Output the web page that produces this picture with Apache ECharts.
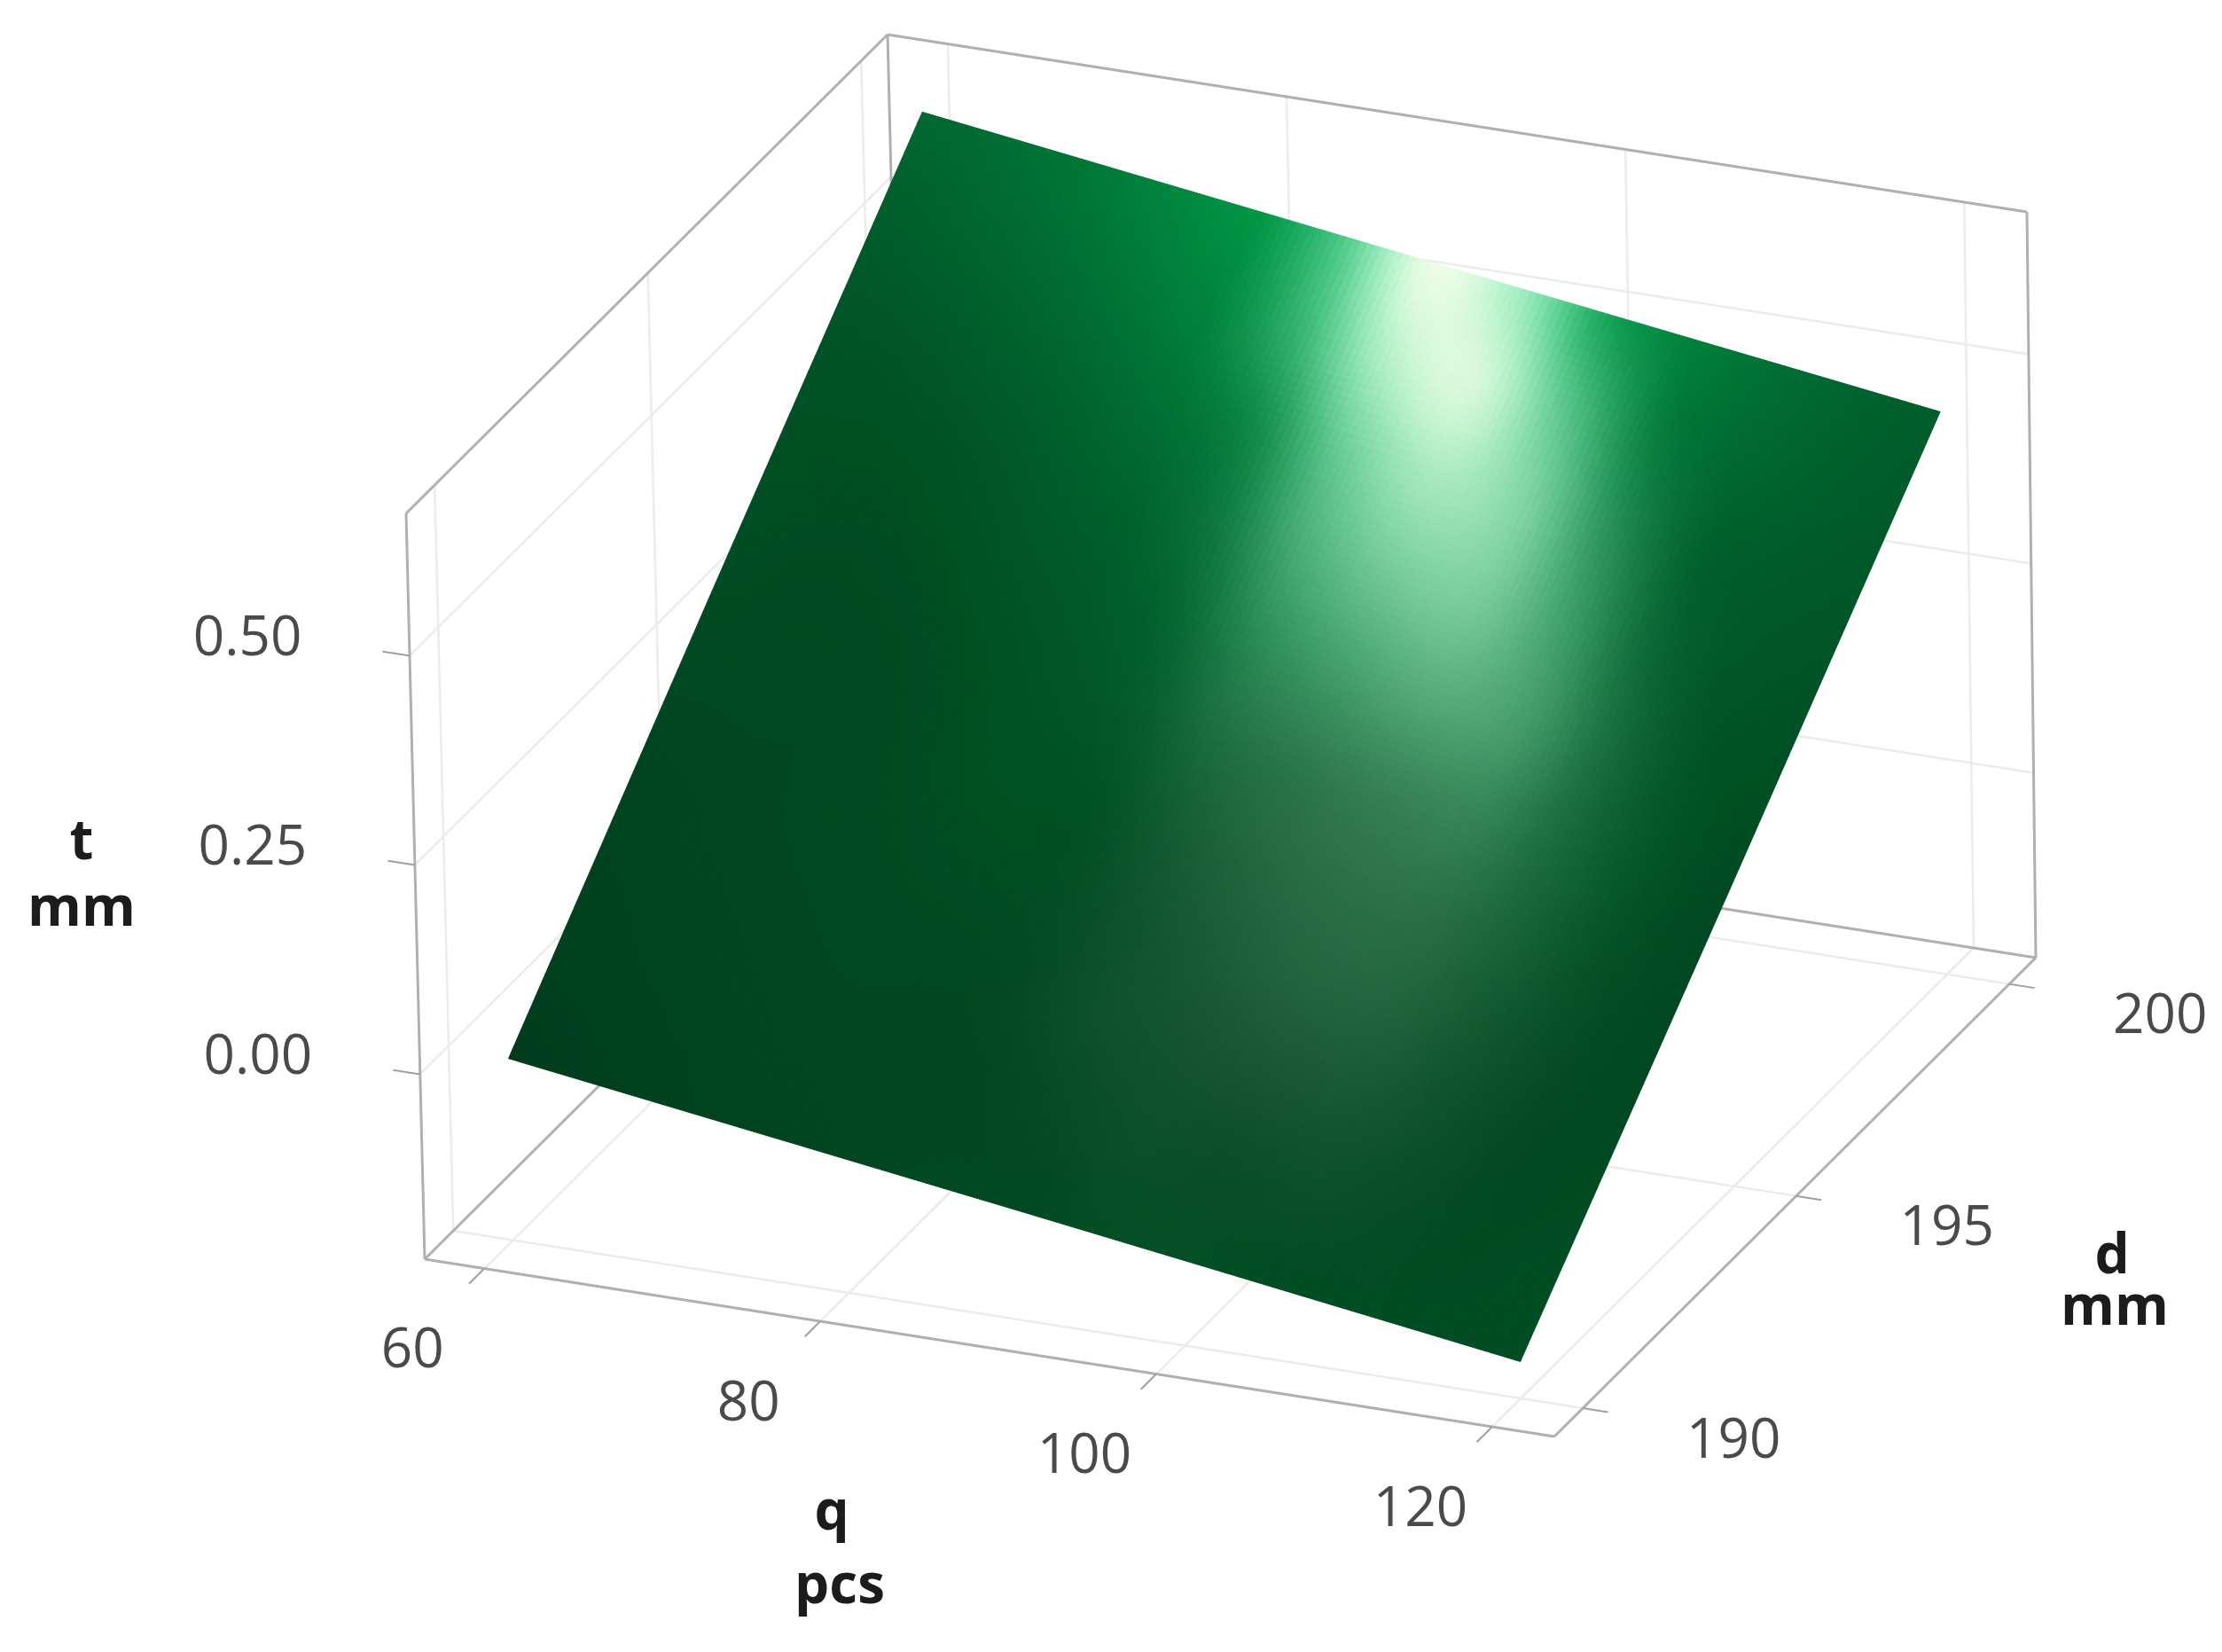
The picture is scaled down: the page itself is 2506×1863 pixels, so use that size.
<!DOCTYPE html>
<html>
<head>
<meta charset="utf-8">
<style>
html, body { margin: 0; background: #fff; }
#chart { width: 2506px; height: 1863px; }
</style>
<script src="https://cdn.jsdelivr.net/npm/echarts@6/dist/echarts.min.js"></script>
</head>
<body>
<div id="chart"></div>
<script>
// ticks
var qTicks = [60, 80, 100, 120];
var dTicks = [190, 195, 200];
var tTicks = [0, 0.25, 0.5];
var tTickLabels = ['0.00', '0.25', '0.50'];

// axis box
var qRange = [56.45, 123.7];
var dRange = [189.33, 200.62];
var tRange = [-0.221, 0.67];

// surface height t (mm), rows d, columns q
var surfaceQ = [60, 90, 120];
var surfaceD = [190, 195, 200];
var surfaceT = [
    [-0.004, -0.09, -0.177],
    [0.31, 0.225, 0.135],
    [0.62, 0.535, 0.451],
];

// shading, rows d = 200 .. 190, columns q = 60 .. 120
var shadeQ = [60, 65, 70, 75, 80, 85, 90, 95, 100, 105, 110, 115, 120];
var shadeD = [200, 199, 198, 197, 196, 195, 194, 193, 192, 191, 190];
// green level of the body colour
var shadeGreen = [
    [104, 110, 120, 135, 150, 155, 160, 160, 150, 130, 112, 100, 92],
    [94, 100, 108, 120, 134, 142, 145, 145, 135, 120, 106, 96, 90],
    [85, 88, 95, 104, 116, 124, 130, 128, 120, 108, 96, 90, 86],
    [80, 80, 84, 92, 100, 108, 110, 108, 103, 98, 90, 86, 82],
    [78, 76, 78, 84, 90, 96, 95, 92, 88, 86, 84, 82, 78],
    [75, 73, 74, 78, 84, 86, 76, 68, 65, 72, 76, 78, 74],
    [72, 72, 72, 76, 80, 78, 68, 60, 58, 62, 70, 74, 72],
    [68, 70, 72, 74, 76, 74, 64, 56, 54, 58, 66, 70, 72],
    [66, 68, 70, 72, 72, 70, 64, 56, 52, 58, 64, 70, 74],
    [64, 66, 68, 70, 70, 70, 68, 66, 64, 66, 70, 74, 76],
    [60, 63, 66, 68, 70, 72, 72, 74, 75, 76, 76, 76, 76],
];
// highlight strength in percent
var shadeGlow = [
    [0, 0, 0, 0, 0, 32, 92, 66, 12, 0, 0, 0, 0],
    [0, 0, 0, 0, 1, 24, 72, 84, 38, 6, 0, 0, 0],
    [0, 0, 0, 0, 0, 9, 44, 66, 52, 18, 2, 0, 0],
    [0, 0, 0, 0, 0, 6, 30, 46, 48, 26, 6, 0, 0],
    [0, 0, 0, 0, 0, 3, 18, 28, 34, 28, 10, 1, 0],
    [0, 0, 0, 0, 0, 2, 12, 18, 22, 21, 10, 2, 0],
    [0, 0, 0, 0, 0, 1, 8, 14, 17, 16, 9, 2, 0],
    [0, 0, 0, 0, 0, 1, 6, 11, 14, 13, 7, 2, 0],
    [0, 0, 0, 0, 0, 1, 5, 8, 10, 9, 5, 1, 0],
    [0, 0, 0, 0, 0, 0, 2, 4, 4, 4, 2, 0, 0],
    [0, 0, 0, 0, 0, 0, 0, 1, 1, 0, 0, 0, 0],
];

// view of the box on the page
var boxOrigin = [479, 1420];
var boxQ = [1274, 200];
var boxD = [543, -540];
var boxT = [-21, -841];
var boxTLean = 11;

var SUB = 12;
var FONT = '"Open Sans", sans-serif';

function project(q, d, t) {
    var u = (q - qRange[0]) / (qRange[1] - qRange[0]);
    var v = (d - dRange[0]) / (dRange[1] - dRange[0]);
    var w = (t - tRange[0]) / (tRange[1] - tRange[0]);
    return [
        boxOrigin[0] + u * boxQ[0] + v * boxD[0] + w * (boxT[0] + u * boxTLean),
        boxOrigin[1] + u * boxQ[1] + v * boxD[1] + w * boxT[1],
    ];
}

function heightAt(q, d) {
    var a = (q - surfaceQ[0]) / (surfaceQ[1] - surfaceQ[0]);
    var b = (d - surfaceD[0]) / (surfaceD[1] - surfaceD[0]);
    var i = Math.min(Math.floor(a), surfaceQ.length - 2);
    var j = Math.min(Math.floor(b), surfaceD.length - 2);
    var fa = a - i;
    var fb = b - j;
    var low = surfaceT[j][i] * (1 - fa) + surfaceT[j][i + 1] * fa;
    var high = surfaceT[j + 1][i] * (1 - fa) + surfaceT[j + 1][i + 1] * fa;
    return low * (1 - fb) + high * fb;
}

function spline(p0, p1, p2, p3, f) {
    return p1 + 0.5 * f * (p2 - p0 + f * (2 * p0 - 5 * p1 + 4 * p2 - p3 + f * (3 * (p1 - p2) + p3 - p0)));
}

function sampleGrid(grid, row, col) {
    var r = Math.min(Math.floor(row), grid.length - 2);
    var c = Math.min(Math.floor(col), grid[0].length - 2);
    var parts = [];
    for (var k = -1; k <= 2; k++) {
        var line = grid[Math.max(0, Math.min(grid.length - 1, r + k))];
        parts.push(spline(
            line[Math.max(0, c - 1)], line[c], line[c + 1],
            line[Math.min(line.length - 1, c + 2)], col - c
        ));
    }
    return spline(parts[0], parts[1], parts[2], parts[3], row - r);
}

function shadeColor(row, col) {
    var g = Math.max(45, sampleGrid(shadeGreen, row, col));
    var s = Math.max(0, Math.min(1, sampleGrid(shadeGlow, row, col) / 100));
    var lift = s * (1.75 - 0.75 * s);
    var red = 255 * s;
    var green = g + (255 - g) * lift;
    var blue = g * 0.46 + (255 - g * 0.46) * s * (1.25 - 0.35 * s);
    return 'rgb(' + Math.round(red) + ',' + Math.round(green) + ',' + Math.round(blue) + ')';
}

// box edges and grid lines as [q1, d1, t1, q2, d2, t2]
var gridLines = [];
var edgeLines = [];
var tickLines = [];
qTicks.forEach(function (q) {
    gridLines.push([q, dRange[0], tRange[0], q, dRange[1], tRange[0]]);
    gridLines.push([q, dRange[1], tRange[0], q, dRange[1], tRange[1]]);
    tickLines.push([q, dRange[0], tRange[0], q, dRange[0] - 0.36, tRange[0]]);
});
dTicks.forEach(function (d) {
    gridLines.push([qRange[0], d, tRange[0], qRange[1], d, tRange[0]]);
    gridLines.push([qRange[0], d, tRange[0], qRange[0], d, tRange[1]]);
    tickLines.push([qRange[1], d, tRange[0], qRange[1] + 1.5, d, tRange[0]]);
});
tTicks.forEach(function (t) {
    gridLines.push([qRange[0], dRange[0], t, qRange[0], dRange[1], t]);
    gridLines.push([qRange[0], dRange[1], t, qRange[1], dRange[1], t]);
    tickLines.push([qRange[0], dRange[0], t, qRange[0] - 1.6, dRange[0], t]);
});
edgeLines.push(
    [qRange[0], dRange[0], tRange[0], qRange[1], dRange[0], tRange[0]],
    [qRange[1], dRange[0], tRange[0], qRange[1], dRange[1], tRange[0]],
    [qRange[1], dRange[1], tRange[0], qRange[0], dRange[1], tRange[0]],
    [qRange[0], dRange[1], tRange[0], qRange[0], dRange[0], tRange[0]],
    [qRange[0], dRange[0], tRange[0], qRange[0], dRange[0], tRange[1]],
    [qRange[1], dRange[1], tRange[0], qRange[1], dRange[1], tRange[1]],
    [qRange[0], dRange[1], tRange[0], qRange[0], dRange[1], tRange[1]],
    [qRange[0], dRange[0], tRange[1], qRange[0], dRange[1], tRange[1]],
    [qRange[0], dRange[1], tRange[1], qRange[1], dRange[1], tRange[1]]
);

function lineSeries(lines, color, width) {
    return {
        type: 'custom',
        silent: true,
        clip: false,
        data: lines,
        renderItem: function (params, api) {
            var l = lines[params.dataIndex];
            var a = api.coord(project(l[0], l[1], l[2]));
            var b = api.coord(project(l[3], l[4], l[5]));
            return {
                type: 'line',
                shape: { x1: a[0], y1: a[1], x2: b[0], y2: b[1] },
                style: { stroke: color, lineWidth: width },
            };
        },
    };
}

function labelSeries(labels, offset) {
    return {
        type: 'custom',
        silent: true,
        clip: false,
        data: labels,
        renderItem: function (params, api) {
            var l = labels[params.dataIndex];
            var p = api.coord(project(l.q, l.d, l.t));
            return {
                type: 'text',
                x: p[0] + offset[0],
                y: p[1] + offset[1],
                style: {
                    text: l.text,
                    fontSize: 62,
                    fontFamily: FONT,
                    fill: '#4a4a4a',
                    align: 'center',
                    verticalAlign: 'middle',
                },
            };
        },
    };
}

var cells = [];
for (var row = 0; row < shadeD.length - 1; row++) {
    for (var col = 0; col < shadeQ.length - 1; col++) {
        cells.push([row, col]);
    }
}

var surfaceSeries = {
    type: 'custom',
    silent: true,
    clip: false,
    data: cells,
    renderItem: function (params, api) {
        var row = cells[params.dataIndex][0];
        var col = cells[params.dataIndex][1];
        var dq = shadeQ[col + 1] - shadeQ[col];
        var dd = shadeD[row + 1] - shadeD[row];
        var children = [];
        for (var a = 0; a < SUB; a++) {
            for (var b = 0; b < SUB; b++) {
                var pts = [[a, b], [a + 1, b], [a + 1, b + 1], [a, b + 1]].map(function (s) {
                    var q = shadeQ[col] + dq * s[0] / SUB;
                    var d = shadeD[row] + dd * s[1] / SUB;
                    return api.coord(project(q, d, heightAt(q, d)));
                });
                var color = shadeColor(row + (b + 0.5) / SUB, col + (a + 0.5) / SUB);
                children.push({
                    type: 'polygon',
                    shape: { points: pts },
                    style: { fill: color, stroke: color, lineWidth: 1 },
                });
            }
        }
        return { type: 'group', children: children };
    },
};

function nameText(text, x, y) {
    return {
        type: 'text',
        x: x,
        y: y,
        style: {
            text: text,
            fontSize: 62,
            fontWeight: 'bold',
            fontFamily: FONT,
            fill: '#1c1c1c',
            align: 'center',
            verticalAlign: 'middle',
        },
    };
}

var chart = echarts.init(document.getElementById('chart'));
chart.setOption({
    animation: false,
    backgroundColor: '#ffffff',
    grid: { left: 0, right: 0, top: 0, bottom: 0 },
    xAxis: { type: 'value', min: 0, max: 2506, show: false },
    yAxis: { type: 'value', min: 0, max: 1863, inverse: true, show: false },
    graphic: [
        nameText('t', 92, 951),
        nameText('mm', 92, 1026),
        nameText('q', 938, 1707),
        nameText('pcs', 947, 1790),
        nameText('d', 2382, 1418),
        nameText('mm', 2385, 1476),
    ],
    series: [
        lineSeries(gridLines, '#ececec', 2.5),
        lineSeries(edgeLines, '#b0b0b0', 3),
        surfaceSeries,
        lineSeries(tickLines, '#a0a0a0', 2),
        labelSeries(qTicks.map(function (q) {
            return { q: q, d: dRange[0], t: tRange[0], text: String(q) };
        }), [-81, 94]),
        labelSeries(dTicks.map(function (d) {
            return { q: qRange[1], d: d, t: tRange[0], text: String(d) };
        }), [170, 38]),
        labelSeries(tTicks.map(function (t, i) {
            return { q: qRange[0], d: dRange[0], t: t, text: tTickLabels[i] };
        }), [-183, -18]),
    ],
});
</script>
</body>
</html>
